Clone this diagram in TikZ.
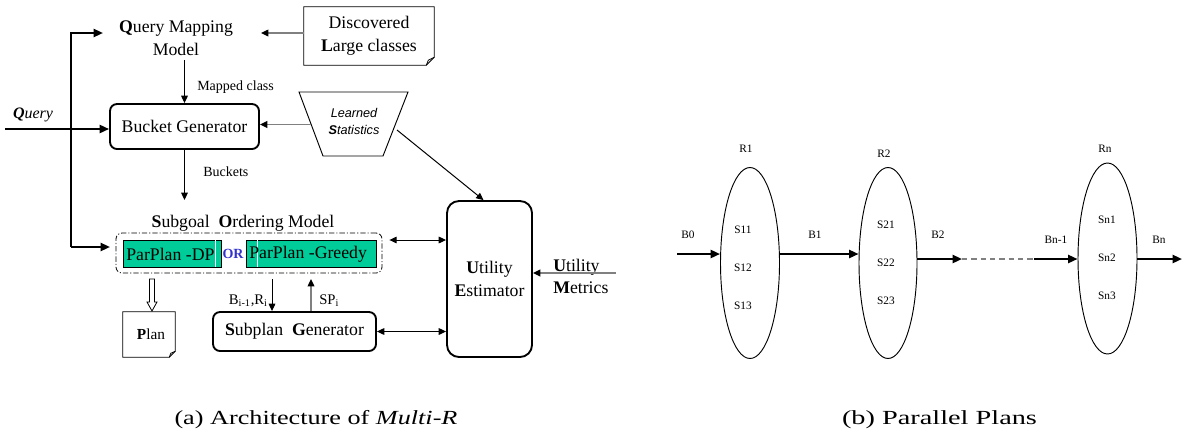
\documentclass[tikz,border=0pt]{standalone}
\usepackage{fontspec}
\setmainfont{Liberation Serif}
\newfontfamily\lsans{Liberation Sans}
\usetikzlibrary{arrows.meta,shapes.geometric,calc}
\definecolor{pgreen}{RGB}{0,204,153}
\definecolor{orblue}{RGB}{51,51,204}
\def\pxu{0.75pt}
\begin{document}
\begin{tikzpicture}[x=0.75pt,y=-0.75pt,
  main/.style={font=\fontsize{13.3}{17.5}\selectfont, inner sep=0pt, align=center},
  smalllab/.style={font=\fontsize{11}{13}\selectfont, inner sep=0pt},
  tinylab/.style={font=\fontsize{8.5}{10}\selectfont, inner sep=0pt},
  rbox/.style={draw, line width=1.4pt, rounded corners=7*\pxu, inner sep=0pt, align=center, font=\fontsize{13.3}{17.5}\selectfont},
  thinarr/.style={line width=0.75pt, -{Triangle[length=5.5pt,width=5pt]}},
  grayarr/.style={line width=1pt, draw=gray, -{Triangle[length=5.5pt,width=5pt,color=black]}},
  dblarr/.style={line width=0.75pt, {Triangle[length=5.5pt,width=5pt]}-{Triangle[length=5.5pt,width=5pt]}},
  thickarr/.style={line width=1.6pt, -{Triangle[length=7pt,width=6pt]}},
  ellnode/.style={draw, ellipse, line width=0.7pt, minimum width=59*\pxu, minimum height=191*\pxu, inner sep=0pt},
  caption/.style={font=\fontsize{15}{18}\selectfont, inner sep=0pt}
]
\useasboundingbox (0,0) rectangle (1195,433);

% ---------- (a) ----------
\node[main] (qmm) at (176,38) {\textbf{Q}uery Mapping\\Model};
\coordinate (qin) at (103,33);
\coordinate (qout) at (261,33);

\node[main, minimum width=130*\pxu, minimum height=58*\pxu] (disc) at (369,36) {Discovered\\\textbf{L}arge classes};
\draw[line width=0.6pt] (disc.north west) -- (disc.north east) -- ([yshift=8*\pxu]disc.south east) -- ([xshift=-8*\pxu]disc.south east) -- (disc.south west) -- cycle;
\draw[line width=0.6pt] ([yshift=8*\pxu]disc.south east) -- ([xshift=-6*\pxu,yshift=5*\pxu]disc.south east) -- ([xshift=-8*\pxu]disc.south east);
\draw[grayarr] (disc.west |- qout) -- (qout);

\node[rbox, minimum width=149*\pxu, minimum height=45*\pxu] (bg) at (184.5,126.5) {Bucket Generator};
\draw[thinarr] (qmm.south -| bg.north) ++(0,4) -- (bg.north);
\node[tinylab, font=\fontsize{10.5}{12}\selectfont, anchor=west] (mc) at (197,87) {Mapped class};

\node[font=\fontsize{12}{14}\selectfont\itshape, inner sep=0pt] (ql) at (33,115) {\textbf{Q}uery};
\coordinate (qL) at (5,129);
\draw[thickarr] (qL) -- (qL -| bg.west);

% learned statistics
\node[font=\lsans\itshape\fontsize{9.5}{12.75}\selectfont, inner sep=0pt, align=center] (ls) at (354,121.5) {Learned\\\textbf{S}tatistics};
\draw[line width=0.7pt] (299,92) -- (408,92) -- (383,156) -- (323,156) -- cycle;
\coordinate (lsL) at (311,124.5);
\coordinate (lsR) at (397,130);
\draw[grayarr] (lsL) -- (lsL -| bg.east);

% buckets
\coordinate (bk) at (184.5,200);
\draw[thinarr] (bg.south) -- (bk);
\node[font=\fontsize{10.5}{12}\selectfont, inner sep=0pt, anchor=west] (bkl) at (203,172) {Buckets};

% subgoal ordering
\node[main] (sogl) at (243,223) {\textbf{S}ubgoal\ \ \textbf{O}rdering Model};
\node[draw, line width=0.6pt, dash pattern=on 4pt off 1.5pt on 0.8pt off 1.5pt, rounded corners=6*\pxu, minimum width=266*\pxu, minimum height=40*\pxu, inner sep=0pt] (sog) at (249,253) {};
\node[draw, fill=pgreen, line width=0.6pt, minimum width=98*\pxu, minimum height=27*\pxu, inner sep=0pt, font=\fontsize{13.3}{16}\selectfont] (gdp) at (172,253.5) {};
\node[draw, fill=pgreen, line width=0.6pt, minimum width=130*\pxu, minimum height=27*\pxu, inner sep=0pt, font=\fontsize{13.3}{16}\selectfont] (ggr) at (311,253.5) {};
\draw[white, line width=0.7pt] ([xshift=-6*\pxu,yshift=-0.4pt]gdp.north east) -- ([xshift=-6*\pxu,yshift=0.4pt]gdp.south east);
\draw[white, line width=0.7pt] ([xshift=12*\pxu,yshift=-0.4pt]ggr.north west) -- ([xshift=12*\pxu,yshift=0.4pt]ggr.south west);
\node[main, anchor=west] (tdp) at (126,254.5) {ParPlan -DP};
\node[main, anchor=west] (tgr) at (249,254.5) {ParPlan -Greedy};
\node[font=\bfseries\fontsize{10.5}{12}\selectfont, text=orblue, inner sep=0pt] (or) at (233,254) {OR};

% left feed lines
\coordinate (vt) at (71,33);
\coordinate (vb) at (71,247);
\coordinate (sogin) at (110,247);
\draw[thickarr] (vb) -- (vt) -- (qin);
\draw[thickarr] (vb) -- (sogin);

% plan
\node[font=\fontsize{11.5}{13}\selectfont, minimum width=52*\pxu, minimum height=45*\pxu, inner sep=0pt] (plan) at (149,334.5) {\hspace{3pt}\textbf{P}lan};
\draw[line width=0.6pt] (plan.north west) -- (plan.north east) -- ([yshift=6*\pxu]plan.south east) -- ([xshift=-6*\pxu]plan.south east) -- (plan.south west) -- cycle;
\draw[line width=0.6pt] ([yshift=6*\pxu]plan.south east) -- ([xshift=-4.5*\pxu,yshift=4*\pxu]plan.south east) -- ([xshift=-6*\pxu]plan.south east);
\coordinate (ha) at (152,279);
\draw[line width=0.6pt] ($(ha)+(-2.5,0)$) -- ($(ha)+(2.5,0)$) -- ($(ha)+(2.5,23)$) -- ($(ha)+(5,23)$) -- ($(ha)+(0,32)$) -- ($(ha)+(-5,23)$) -- ($(ha)+(-2.5,23)$) -- cycle;

% subplan generator
\node[rbox, minimum width=163*\pxu, minimum height=39*\pxu] (spg) at (294.5,331.5) {\textbf{S}ubplan\ \ \textbf{G}enerator};
\draw[line width=1.6pt] (292,312) -- (310,312);
\coordinate (bt) at (272,279);
\draw[thinarr] (bt) -- (bt |- spg.north);
\coordinate (st) at (311,279);
\draw[grayarr] (st |- spg.north) -- (st);
\node[smalllab, anchor=east] (bil) at (268,301) {B\textsubscript{i-1},R\textsubscript{i}};
\node[smalllab, anchor=west] (spl) at (319,301) {SP\textsubscript{i}};

% utility estimator
\node[rbox, rounded corners=12*\pxu, minimum width=85*\pxu, minimum height=156*\pxu] (ue) at (489.5,279) {\textbf{U}tility\\\textbf{E}stimator};
\draw[thinarr] (lsR) -- ([xshift=-6*\pxu]ue.north);
\draw[dblarr] ([xshift=7*\pxu,yshift=13*\pxu]sog.east) -- ([yshift=13*\pxu]sog.east -| ue.west);
\draw[dblarr] (spg.east) -- (spg.east -| ue.west);

\node[main, align=left, anchor=west, font=\fontsize{13.3}{16.5}\selectfont] (um) at (553,276) {\textbf{U}tility\\\textbf{M}etrics};
\coordinate (umR) at (616,273);
\draw[grayarr] (umR) -- (umR -| ue.east);

% ---------- (b) ----------
\node[ellnode] (e1) at (750,263) {};
\node[ellnode, minimum width=58*\pxu] (e2) at (888,263) {};
\node[ellnode] (en) at (1107.5,258.5) {};

\node[tinylab] (r1) at (746,149) {R1};
\node[tinylab] (r2) at (884,154) {R2};
\node[tinylab] (rn) at (1105,149) {Rn};

\node[tinylab] (s11) at (743,230) {S11};
\node[tinylab] (s12) at (743,268) {S12};
\node[tinylab] (s13) at (743,306) {S13};
\node[tinylab] (s21) at (886,225) {S21};
\node[tinylab] (s22) at (886,263) {S22};
\node[tinylab] (s23) at (886,301) {S23};
\node[tinylab] (sn1) at (1107,220) {Sn1};
\node[tinylab] (sn2) at (1107,258) {Sn2};
\node[tinylab] (sn3) at (1107,296) {Sn3};

\node[tinylab] (b0) at (688,235) {B0};
\node[tinylab] (b1) at (815,235) {B1};
\node[tinylab] (b2) at (938,235) {B2};
\node[tinylab] (bn1) at (1056,240) {Bn-1};
\node[tinylab] (bn) at (1159,240) {Bn};

\coordinate (b0s) at (677,254);
\draw[thickarr] (b0s) -- (b0s -| e1.west);
\draw[thickarr] ([yshift=9*\pxu]e1.east) -- ([yshift=9*\pxu]e2.west);
\coordinate (d1) at (962,259);
\coordinate (d2) at (1034,259);
\coordinate (bnend) at (1182,259);
\draw[thickarr] ([yshift=4*\pxu]e2.east) -- (d1);
\draw[gray, line width=0.8pt, dash pattern=on 4pt off 3pt] (d1) -- (d2);
\draw[thickarr] (d2) -- (d2 -| en.west);
\draw[thickarr] (en.east |- bnend) -- (bnend);

% captions
\node[caption, xscale=1.31] (capa) at (316,420) {(a) Architecture of \textit{Multi-R}};
\node[caption, xscale=1.415] (capb) at (939.5,420) {(b) Parallel Plans};
\end{tikzpicture}
\end{document}
